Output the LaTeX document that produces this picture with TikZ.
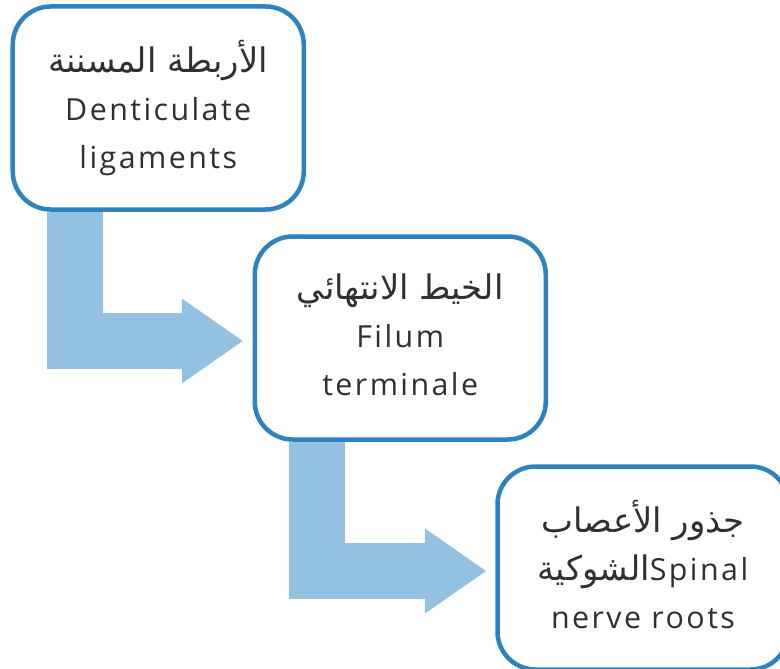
\documentclass[tikz,border=0pt]{standalone}
\usepackage{fontspec}
\usetikzlibrary{arrows.meta,calc}
\TeXXeTstate=1
\setmainfont{Open Sans}[LetterSpace=8]
\newfontfamily\arabicfont[Script=Arabic]{DejaVu Sans}
\definecolor{boxblue}{HTML}{2E83BE}
\definecolor{arrowblue}{HTML}{94C1DF}
\definecolor{txt}{HTML}{303030}
\newcommand{\ar}[1]{{\arabicfont\fontsize{34}{48.5}\selectfont\beginR #1\endR}}
\newcommand{\lowstrut}{\rule[-7bp]{0pt}{0pt}}
\begin{document}
\begin{tikzpicture}[x=1bp,y=-1bp,
  box/.style={draw=boxblue,line width=4.5bp,fill=white,rounded corners=38bp,
    minimum width=291bp,minimum height=203bp,inner sep=0pt,align=center,
    text=txt,font=\fontsize{30.5}{48.5}\selectfont},
  bigarrow/.style={draw=arrowblue,line width=56bp,line join=miter,
    -{Triangle[length=61bp,width=85bp,line width=0pt]}}]
\useasboundingbox (0,0) rectangle (780,669);
\node[box] (b1) at (158.25,108) {\ar{الأربطة المسننة}\\Denticulate\\ligaments\lowstrut};
\node[box] (b2) at (400.25,338) {\ar{الخيط الانتهائي}\\Filum\\terminale\lowstrut};
\node[box] (b3) at (643,568) {\ar{جذور الأعصاب}\\\ar{الشوكية}Spinal\\nerve roots\lowstrut};
\draw[bigarrow] ($(b1.south west)+(64.25,0)$) |- ($(b2.west)+(-9.75,3)$);
\draw[bigarrow] ($(b2.south west)+(64.25,0)$) |- ($(b3.west)+(-9.25,3)$);
\end{tikzpicture}
\end{document}
